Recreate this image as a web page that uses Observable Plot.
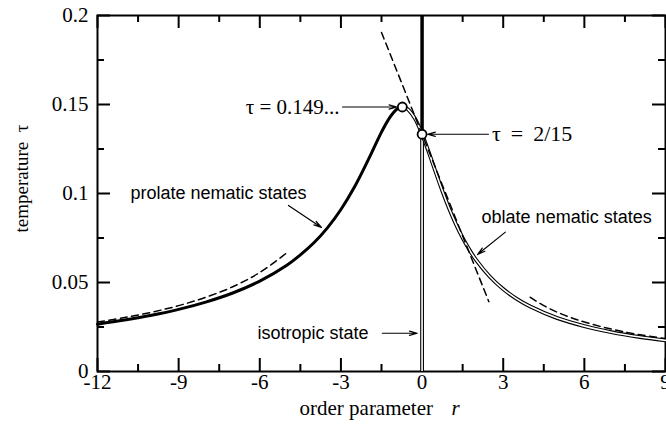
<!DOCTYPE html>
<html>
<head>
<meta charset="utf-8">
<script src="https://cdn.jsdelivr.net/npm/d3@7"></script>
<script src="https://cdn.jsdelivr.net/npm/@observablehq/plot@0.6"></script>
<style>
  html, body { margin: 0; padding: 0; background: #fff; }
</style>
</head>
<body>
<div id="chart"></div>
<script>
// ---- data ----
// prolate nematic branch (thick line)
const prolateR   = [-12, -11, -10, -9, -8, -7, -6, -5, -4.5, -4, -3.5, -3, -2.5, -2, -1.75, -1.5, -1.25, -1, -0.85, -0.73];
const prolateTau = [0.0266, 0.0289, 0.0316, 0.0349, 0.0390, 0.0441, 0.0508, 0.0597, 0.0655, 0.0723, 0.0807, 0.0910, 0.1036, 0.1186, 0.1266, 0.1345, 0.1414, 0.1464, 0.1481, 0.1486];
// double-line branch (from the maximum through r = 0 to the oblate states)
const branchR   = [-0.73, -0.6, -0.5, -0.25, 0, 0.25, 0.5, 0.75, 1, 1.25, 1.5, 1.75, 2, 2.5, 3, 3.5, 4, 5, 6, 7, 8, 9];
const branchTau = [0.1486, 0.1481, 0.1470, 0.1418, 0.1333, 0.1231, 0.1121, 0.1014, 0.0916, 0.0828, 0.0751, 0.0684, 0.0626, 0.0534, 0.0463, 0.0408, 0.0365, 0.0300, 0.0255, 0.0221, 0.0195, 0.0175];
// dashed asymptotes
const asymLeftR    = [-12, -11, -10, -9, -8, -7, -6, -5];
const asymLeftTau  = [0.0278, 0.0303, 0.0333, 0.0370, 0.0417, 0.0476, 0.0556, 0.0667];
const asymRightR   = [4, 4.5, 5, 5.5, 6, 7, 8, 9];
const asymRightTau = [0.0417, 0.0370, 0.0333, 0.0303, 0.0278, 0.0238, 0.0208, 0.0185];
const tangentR     = [-1.5, 2.47];
const tangentTau   = [0.1905, 0.0392];
// isotropic line r = 0 and the two marked points
const isoR        = [0];
const isoTopTau   = [0.2];
const isoSplitTau = [0.1333];
const isoBotTau   = [0];
const pointR   = [-0.73, 0];
const pointTau = [0.1486, 0.1333];
// ticks
const xTicks = [-12, -9, -6, -3, 0, 3, 6, 9];
const xMinor = [-10.5, -7.5, -4.5, -1.5, 1.5, 4.5, 7.5];
const yTicks = [0, 0.05, 0.1, 0.15, 0.2];
const yMinor = [0.025, 0.075, 0.125, 0.175];
// annotations
const maxLabel = "τ = 0.149...";
const maxLabelR = -3.05, maxLabelTau = 0.1486;
const critLabel = "τ \u2009= \u20092/15";
const critLabelR = 2.59, critLabelTau = 0.1333;
const sansLabels    = ["prolate nematic states", "oblate nematic states"];
const sansLabelR    = [-10.78, 2.2];
const sansLabelTau  = [0.1000, 0.0865];
const isoLabel = "isotropic state";
const isoLabelR = -1.98, isoLabelTau = 0.0215;
const pointArrowR1   = [-2.94, 2.455];
const pointArrowTau1 = [0.1486, 0.1333];
const noteArrowR1   = [-4.94, 3.08, -1.47];
const noteArrowTau1 = [0.0933, 0.0783, 0.0215];
const noteArrowR2   = [-3.72, 2.05, -0.18];
const noteArrowTau2 = [0.0809, 0.0657, 0.0215];
const xTitle = "order parameter";
const xTitleVar = "r";
const yTitle = "temperature\u00a0\u00a0τ";

// ---- tables ----
const zip = (rs, ts) => rs.map((r, i) => ({r, tau: ts[i]}));
const prolate = zip(prolateR, prolateTau);
const branch = zip(branchR, branchTau);
const asymLeft = zip(asymLeftR, asymLeftTau);
const asymRight = zip(asymRightR, asymRightTau);
const tangent = zip(tangentR, tangentTau);
const points = zip(pointR, pointTau);
const sansNotes = sansLabels.map((t, i) => ({t, r: sansLabelR[i], tau: sansLabelTau[i]}));
const pointArrows = pointArrowR1.map((r, i) => ({r1: r, t1: pointArrowTau1[i], r2: pointR[i], t2: pointTau[i]}));
const noteArrows = noteArrowR1.map((r, i) => ({r1: r, t1: noteArrowTau1[i], r2: noteArrowR2[i], t2: noteArrowTau2[i]}));

const serif = "'Liberation Serif', 'Times New Roman', serif";
const sans = "'Liberation Sans', Arial, sans-serif";
const dash = "7,4.5";

const chart = Plot.plot({
  width: 666,
  height: 433,
  marginLeft: 97,
  marginRight: 1,
  marginTop: 15,
  marginBottom: 62,
  style: {fontFamily: serif, fontSize: "21px", background: "#fff", color: "#000"},
  x: {domain: [-12, 9], label: null},
  y: {domain: [0, 0.2], label: null},
  marks: [
    Plot.axisX(xTicks, {tickSize: 0, tickPadding: 3, tickFormat: d => String(d), label: null}),
    Plot.axisY(yTicks, {tickSize: 0, tickPadding: 9, tickFormat: d => String(d), label: null}),
    // inward ticks on four sides
    Plot.ruleX(xTicks, {x: d => d, y1: 0, y2: 0, insetBottom: 13, strokeWidth: 2}),
    Plot.ruleX(xMinor, {x: d => d, y1: 0, y2: 0, insetBottom: 7, strokeWidth: 2}),
    Plot.ruleX(xTicks, {x: d => d, y1: 0.2, y2: 0.2, insetTop: 13, strokeWidth: 2}),
    Plot.ruleX(xMinor, {x: d => d, y1: 0.2, y2: 0.2, insetTop: 7, strokeWidth: 2}),
    Plot.ruleY(yTicks, {y: d => d, x1: -12, x2: -12, insetLeft: 13, strokeWidth: 2}),
    Plot.ruleY(yMinor, {y: d => d, x1: -12, x2: -12, insetLeft: 7, strokeWidth: 2}),
    Plot.ruleY(yTicks, {y: d => d, x1: 9, x2: 9, insetRight: 13, strokeWidth: 2}),
    Plot.ruleY(yMinor, {y: d => d, x1: 9, x2: 9, insetRight: 7, strokeWidth: 2}),
    Plot.frame({stroke: "#000", strokeWidth: 2}),
    // isotropic line at r = 0
    Plot.ruleX(isoR, {x: d => d, y1: isoSplitTau[0], y2: isoTopTau[0], strokeWidth: 3.5}),
    Plot.ruleX(isoR, {x: d => d, y1: isoBotTau[0], y2: isoSplitTau[0], strokeWidth: 3.8}),
    Plot.ruleX(isoR, {x: d => d, y1: isoBotTau[0], y2: isoSplitTau[0], strokeWidth: 1.6, stroke: "#fff"}),
    // thick prolate branch
    Plot.line(prolate, {x: "r", y: "tau", stroke: "#000", strokeWidth: 3, curve: "catmull-rom"}),
    // double-line branch
    Plot.line(branch, {x: "r", y: "tau", stroke: "#000", strokeWidth: 3.8, curve: "catmull-rom"}),
    Plot.line(branch, {x: "r", y: "tau", stroke: "#fff", strokeWidth: 1.6, curve: "catmull-rom"}),
    // dashed asymptotes
    Plot.line(asymLeft, {x: "r", y: "tau", stroke: "#000", strokeWidth: 1.5, strokeDasharray: dash, curve: "catmull-rom"}),
    Plot.line(asymRight, {x: "r", y: "tau", stroke: "#000", strokeWidth: 1.5, strokeDasharray: dash, curve: "catmull-rom"}),
    Plot.line(tangent, {x: "r", y: "tau", stroke: "#000", strokeWidth: 1.5, strokeDasharray: dash}),
    // marked points
    Plot.dot(points, {x: "r", y: "tau", r: 4.5, fill: "#fff", stroke: "#000", strokeWidth: 1.8}),
    // arrows
    Plot.arrow(pointArrows, {x1: "r1", y1: "t1", x2: "r2", y2: "t2", insetEnd: 5.5, stroke: "#000", strokeWidth: 1.2, headLength: 10, headAngle: 30}),
    Plot.arrow(noteArrows, {x1: "r1", y1: "t1", x2: "r2", y2: "t2", stroke: "#000", strokeWidth: 1.2, headLength: 10, headAngle: 30}),
    // annotations
    Plot.text([maxLabel], {x: () => maxLabelR, y: () => maxLabelTau, text: d => d, textAnchor: "end", fontFamily: serif, fontSize: 21, fill: "#000"}),
    Plot.text([critLabel], {x: () => critLabelR, y: () => critLabelTau, text: d => d, textAnchor: "start", fontFamily: serif, fontSize: 22, fill: "#000"}),
    Plot.text(sansNotes, {x: "r", y: "tau", text: "t", textAnchor: "start", fontFamily: sans, fontSize: 18, fill: "#000"}),
    Plot.text([isoLabel], {x: () => isoLabelR, y: () => isoLabelTau, text: d => d, textAnchor: "end", fontFamily: sans, fontSize: 18, fill: "#000"}),
    // axis titles
    Plot.text([xTitle], {frameAnchor: "bottom", dy: 43, dx: -82, text: d => d, textAnchor: "start", fontFamily: serif, fontSize: 21, fill: "#000"}),
    Plot.text([xTitleVar], {frameAnchor: "bottom", dy: 43, dx: 70, text: d => d, textAnchor: "start", fontFamily: serif, fontStyle: "italic", fontSize: 21, fill: "#000"}),
    Plot.text([yTitle], {frameAnchor: "left", dx: -76, dy: -15, rotate: -90, text: d => d, textAnchor: "middle", fontFamily: serif, fontSize: 19, fill: "#000"})
  ]
});
document.getElementById("chart").appendChild(chart);
</script>
</body>
</html>
